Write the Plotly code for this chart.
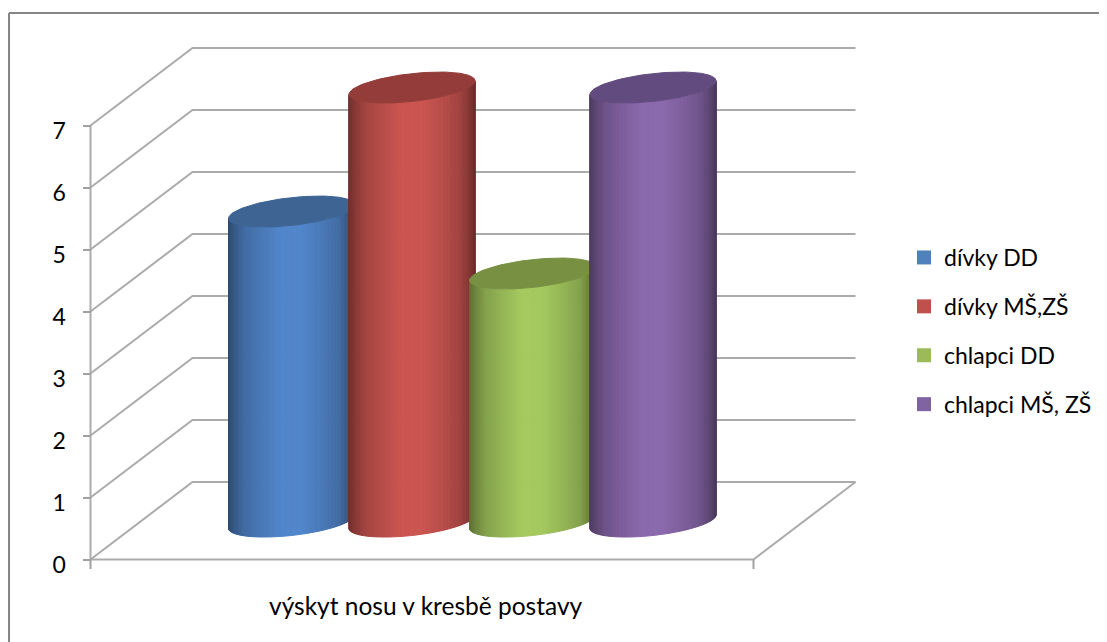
import numpy as np
import plotly.graph_objects as go

# ---- data ----
series_names = ["dívky DD", "dívky MŠ,ZŠ", "chlapci DD", "chlapci MŠ, ZŠ"]
series_values = [5, 7, 4, 7]
category_label = "výskyt nosu v kresbě postavy"
y_ticks = [0, 1, 2, 3, 4, 5, 6, 7]

# ---- colours ----
legend_colors = ["#4F81BD", "#C0504D", "#9BBB59", "#8064A2"]
body_colors = ["#5286CB", "#CB5551", "#A5C95F", "#8B69AD"]
top_colors = ["#3D6493", "#933C39", "#789042", "#624B7F"]
GRID = "#ABABAB"
TEXT = "#000000"
FONT = "Lato"

# ---- projection (axis units); the page adds an 8 px body margin ----
PAGE = 8
W, H = 1107, 642 - PAGE
X0_PX, Y0_PX = 90.5 - PAGE, 559.5 - PAGE
X_UNIT, Y_UNIT = 663.0, 62.0
DEPTH_X, DEPTH_Y = 102.0 / X_UNIT, 77.5 / Y_UNIT
BAR_GAP = 120.5 / X_UNIT
BAR_R = 63.0 / X_UNIT
CLUSTER_CENTER = 0.5 + 0.3 / X_UNIT
ELL_H = 15.5 / Y_UNIT
TILT = np.arcsin(7.0 / 16.0)
FLOOR_DEPTH = 0.49
N_STRIPS = 72
SHADE_U = [0.0, 0.05, 0.13, 0.25, 0.42, 0.58, 0.75, 0.88, 0.96, 1.0]
SHADE_V = [0.56, 0.66, 0.80, 0.89, 1.0, 1.0, 0.90, 0.80, 0.64, 0.54]


def shade(color, f):
    r, g, b = (int(color[i:i + 2], 16) for i in (1, 3, 5))
    return f"rgb({r * f:.0f},{g * f:.0f},{b * f:.0f})"


fig = go.Figure()


def add_line(xs, ys, color=GRID, width=2):
    fig.add_trace(go.Scatter(x=xs, y=ys, mode="lines", line=dict(color=color, width=width),
                             showlegend=False, hoverinfo="skip"))


# walls and floor
for v in y_ticks:
    add_line([0, DEPTH_X, 1 + DEPTH_X], [v, v + DEPTH_Y, v + DEPTH_Y])
add_line([0, 0], [y_ticks[0], y_ticks[-1]])
add_line([0, 1, 1 + DEPTH_X], [0, 0, DEPTH_Y])
for xv in (0, 1):
    add_line([xv, xv], [0, -9.5 / Y_UNIT], color="#A0A0A0")

# cylinders
for i, (name, val) in enumerate(zip(series_names, series_values)):
    cx = CLUSTER_CENTER + (i - 1.5) * BAR_GAP + FLOOR_DEPTH * DEPTH_X
    base = FLOOR_DEPTH * DEPTH_Y
    s = np.linspace(np.pi, 2 * np.pi, N_STRIPS + 1)
    xs = cx + BAR_R * np.cos(s)
    arc = ELL_H * np.sin(s + TILT)
    for k in range(N_STRIPS):
        u = 0.5 * (np.cos(0.5 * (s[k] + s[k + 1])) + 1)
        c = shade(body_colors[i], float(np.interp(u, SHADE_U, SHADE_V)))
        px = [xs[k], xs[k + 1], xs[k + 1], xs[k], xs[k]]
        py = [base + arc[k], base + arc[k + 1], base + val + arc[k + 1], base + val + arc[k], base + arc[k]]
        fig.add_trace(go.Scatter(x=px, y=py, mode="lines", fill="toself", fillcolor=c,
                                 line=dict(color=c, width=1), showlegend=False, hoverinfo="skip"))
    t = np.linspace(0, 2 * np.pi, 121)
    fig.add_trace(go.Scatter(x=cx + BAR_R * np.cos(t), y=base + val + ELL_H * np.sin(t + TILT),
                             mode="lines", fill="toself", fillcolor=top_colors[i],
                             line=dict(color=top_colors[i], width=1), showlegend=False, hoverinfo="skip"))

# legend entries
for i, name in enumerate(series_names):
    fig.add_trace(go.Scatter(x=[None], y=[None], mode="markers", name=name, legendgroup=name,
                             marker=dict(symbol="square", size=14, color=legend_colors[i])))

fig.add_annotation(x=0.5, y=(Y0_PX - (605 - PAGE)) / Y_UNIT, xref="x", yref="y", text=category_label,
                   xshift=4, showarrow=False, font=dict(family=FONT, size=24.5, color=TEXT))

fig.add_shape(type="line", xref="paper", yref="paper", x0=1 / W, x1=1 / W, y0=0, y1=1 - 5 / H,
              line=dict(color="#868686", width=2))
fig.add_shape(type="line", xref="paper", yref="paper", x0=1 / W, x1=1, y0=1 - 5 / H, y1=1 - 5 / H,
              line=dict(color="#868686", width=2))

fig.update_layout(
    width=W, height=H, margin=dict(l=0, r=0, t=0, b=0), autosize=False,
    paper_bgcolor="white", plot_bgcolor="white",
    font=dict(family=FONT, size=23, color=TEXT),
    xaxis=dict(visible=False, domain=[0, 1],
               range=[-X0_PX / X_UNIT, (W - X0_PX) / X_UNIT]),
    yaxis=dict(range=[(Y0_PX - H) / Y_UNIT, Y0_PX / Y_UNIT], anchor="free", position=X0_PX / W,
               tickmode="array", tickvals=y_ticks, ticks="outside", ticklen=8, tickwidth=2,
               tickcolor="#A0A0A0", showgrid=False, zeroline=False, showline=False,
               ticklabelstandoff=12, ticklabelshift=5,
               tickfont=dict(family=FONT, size=23, color=TEXT)),
    legend=dict(x=896 / W, y=1 - 228 / H, xanchor="left", yanchor="top", tracegroupgap=16,
                itemwidth=30, font=dict(family=FONT, size=23, color=TEXT), bgcolor="rgba(0,0,0,0)"),
    showlegend=True,
)

fig.write_html("out.html")
